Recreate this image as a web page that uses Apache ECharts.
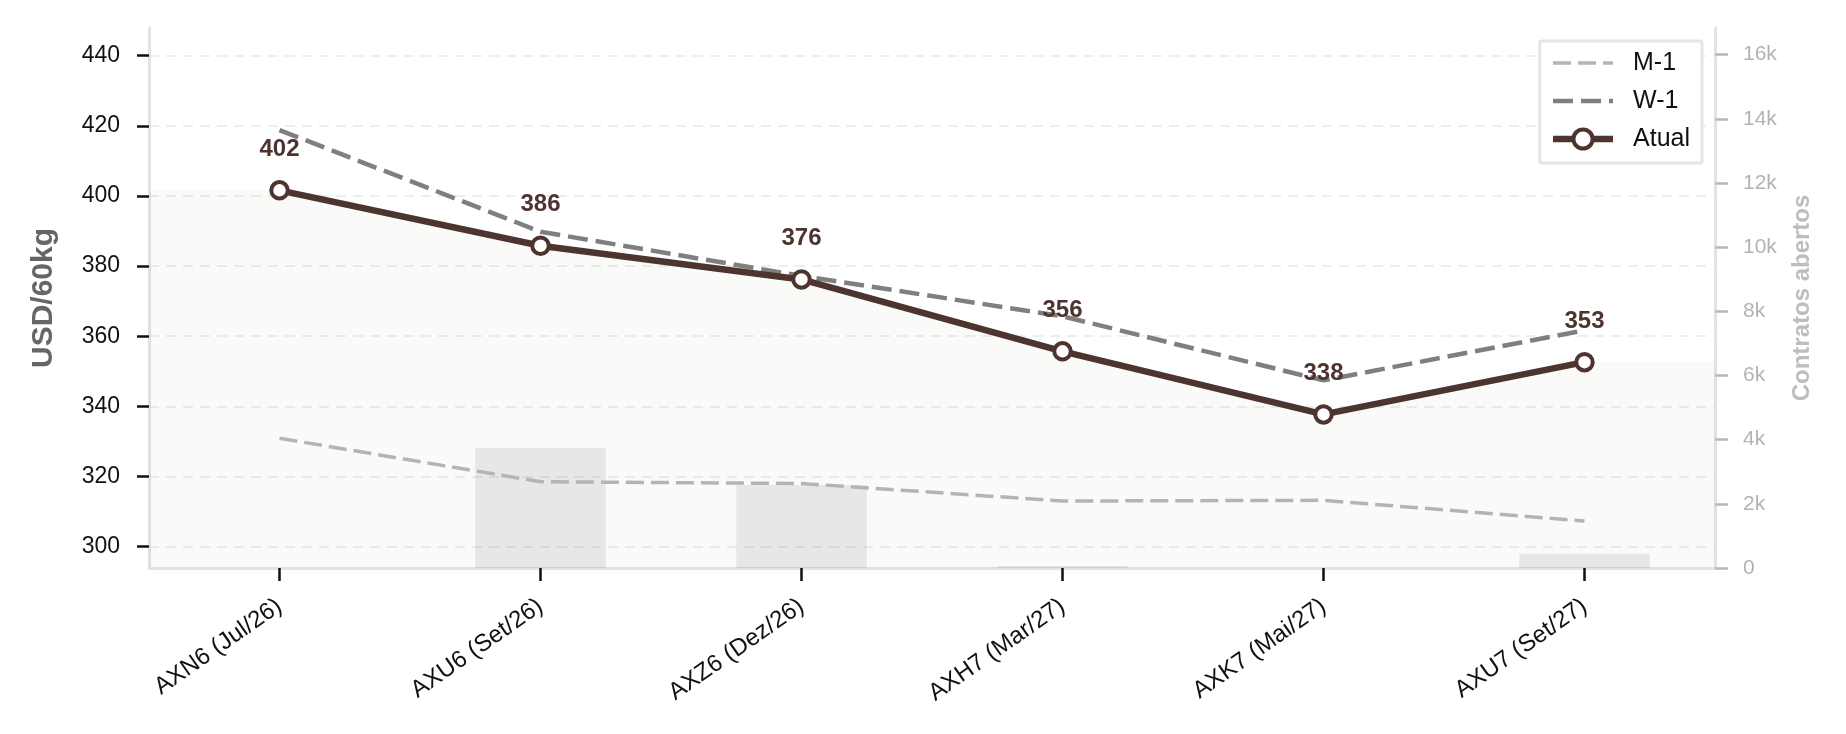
<!DOCTYPE html>
<html lang="pt">
<head>
<meta charset="UTF-8" />
<title>Curva de futuros</title>
<style>
  html, body { margin: 0; padding: 0; background: #fff; }
  #main { width: 1846px; height: 734px; }
</style>
</head>
<body>
<div id="main"></div>
<script src="https://cdn.jsdelivr.net/npm/echarts@6/dist/echarts.min.js"></script>
<script>
// vencimentos
var contratos = ['AXN6 (Jul/26)', 'AXU6 (Set/26)', 'AXZ6 (Dez/26)', 'AXH7 (Mar/27)', 'AXK7 (Mai/27)', 'AXU7 (Set/27)'];
// USD/60kg
var atual = [401.6, 385.8, 376.2, 355.7, 337.7, 352.6];
var semanaAnt = [418.8, 389.8, 377.2, 365.7, 347.4, 361.7];   // W-1
var mesAnt = [330.9, 318.5, 318.0, 313.0, 313.2, 307.3];      // M-1
// contratos abertos
var abertos = [0, 3750, 2590, 60, 0, 445];
var precoTicks = [300, 320, 340, 360, 380, 400, 420, 440];
var abertosTicks = [0, 2000, 4000, 6000, 8000, 10000, 12000, 14000, 16000];

var fonte = '"Liberation Sans", Arial, Helvetica, sans-serif';
var marrom = '#4e342e';

// area clara sob a curva atual, prolongada ate as bordas
var areaDados = [[-0.5, atual[0]]];
atual.forEach(function (v, i) { areaDados.push([i, v]); });
areaDados.push([contratos.length - 0.5, atual[atual.length - 1]]);

var myChart = echarts.init(document.getElementById('main'));

var option = {
  backgroundColor: '#ffffff',
  animation: false,
  textStyle: { fontFamily: fonte },
  grid: { left: 149, right: 131, top: 28, bottom: 166 },
  legend: {
    data: [
      { name: 'M-1', itemStyle: { opacity: 0 } },
      { name: 'W-1', itemStyle: { opacity: 0 } },
      { name: 'Atual' }
    ],
    orient: 'vertical',
    right: 144,
    top: 41,
    itemWidth: 60,
    itemHeight: 24,
    itemGap: 10,
    padding: [8, 12, 10, 10],
    backgroundColor: '#ffffff',
    borderColor: '#e6e6e6',
    borderWidth: 3,
    borderRadius: 2,
    lineStyle: { width: 'inherit' },
    itemStyle: { borderWidth: 'inherit' },
    textStyle: { fontSize: 25, color: '#111', lineHeight: 28, padding: [0, 0, 0, 15], fontFamily: fonte }
  },
  xAxis: [{
    type: 'category',
    data: contratos,
    axisLine: { show: true, lineStyle: { color: '#e3e3e3', width: 3 } },
    axisTick: { show: true, alignWithLabel: true, length: 13, lineStyle: { color: '#111', width: 2.5 } },
    axisLabel: { rotate: 35, fontSize: 24, color: '#111', margin: 36, interval: 0 },
    splitLine: { show: false }
  }, {
    type: 'value',
    min: -0.5,
    max: contratos.length - 0.5,
    show: false
  }],
  yAxis: [{
    type: 'value',
    position: 'left',
    min: 293.9,
    max: 447.9,
    name: 'USD/60kg',
    nameLocation: 'middle',
    nameGap: 90,
    nameTextStyle: { fontSize: 30, fontWeight: 'bold', color: '#666' },
    axisLine: { show: true, onZero: false, lineStyle: { color: '#e3e3e3', width: 3 } },
    axisTick: { show: true, length: 12, customValues: precoTicks, lineStyle: { color: '#111', width: 2.5 } },
    axisLabel: { fontSize: 23, color: '#111', margin: 29, customValues: precoTicks },
    splitLine: { show: true, lineStyle: { color: '#eeeeee', width: 2, type: [10, 7] } }
  }, {
    type: 'value',
    position: 'right',
    min: 0,
    max: 16830,
    name: 'Contratos abertos',
    nameLocation: 'middle',
    nameGap: 75,
    nameTextStyle: { fontSize: 24, fontWeight: 'bold', color: '#bdbdbd' },
    axisLine: { show: true, onZero: false, lineStyle: { color: '#e3e3e3', width: 3 } },
    axisTick: { show: true, length: 13, customValues: abertosTicks, lineStyle: { color: '#b8b8b8', width: 2.5 } },
    axisLabel: {
      fontSize: 21, color: '#b3b3b3', margin: 28, customValues: abertosTicks,
      formatter: function (v) { return v === 0 ? '0' : (v / 1000) + 'k'; }
    },
    splitLine: { show: false }
  }],
  series: [{
    name: 'fundo',
    type: 'line',
    xAxisIndex: 1,
    yAxisIndex: 0,
    data: areaDados,
    symbol: 'none',
    silent: true,
    lineStyle: { width: 0, opacity: 0 },
    areaStyle: { color: 'rgba(90,80,40,0.03)', opacity: 1, origin: 'start' }
  }, {
    name: 'Contratos abertos',
    type: 'bar',
    xAxisIndex: 0,
    yAxisIndex: 1,
    data: abertos,
    barWidth: '50%',
    itemStyle: { color: 'rgba(0,0,0,0.075)' },
    silent: true
  }, {
    name: 'M-1',
    type: 'line',
    xAxisIndex: 0,
    yAxisIndex: 0,
    data: mesAnt,
    symbol: 'none',
    lineStyle: { color: '#b4b4b4', width: 3.5, type: [18, 7] },
    itemStyle: { color: '#b4b4b4' }
  }, {
    name: 'W-1',
    type: 'line',
    xAxisIndex: 0,
    yAxisIndex: 0,
    data: semanaAnt,
    symbol: 'none',
    lineStyle: { color: '#7f7f7f', width: 4.5, type: [20, 8] },
    itemStyle: { color: '#7f7f7f' }
  }, {
    name: 'Atual',
    type: 'line',
    xAxisIndex: 0,
    yAxisIndex: 0,
    data: atual,
    symbol: 'circle',
    symbolSize: 16.5,
    showAllSymbol: true,
    lineStyle: { color: marrom, width: 6.5 },
    itemStyle: { color: '#ffffff', borderColor: marrom, borderWidth: 4 },
    label: {
      show: true,
      position: 'inside',
      offset: [0, -41],
      fontSize: 24,
      fontWeight: 'bold',
      color: marrom,
      formatter: function (p) { return Math.round(p.value); }
    },
    z: 5
  }]
};

myChart.setOption(option);
</script>
</body>
</html>
